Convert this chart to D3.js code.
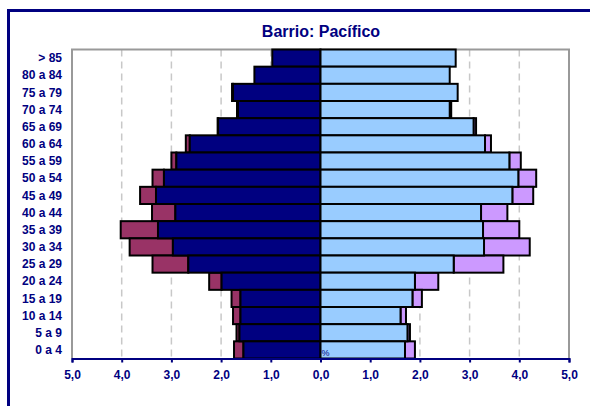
<!DOCTYPE html>
<html>
<head>
<meta charset="utf-8">
<script src="https://cdn.jsdelivr.net/npm/d3@7"></script>
<style>
  body { margin: 0; background: #fff; }
  svg { display: block; font-family: "Liberation Sans", Arial, sans-serif; }
</style>
</head>
<body>
<div id="chart"></div>
<script>
// Age groups, top to bottom
const ageGroups = ['> 85', '80 a 84', '75 a 79', '70 a 74', '65 a 69', '60 a 64', '55 a 59', '50 a 54',
  '45 a 49', '40 a 44', '35 a 39', '30 a 34', '25 a 29', '20 a 24', '15 a 19', '10 a 14', '5 a 9', '0 a 4'];

// Men (left side): base share and the extra stacked beyond it
const menBase = [0.97, 1.33, 1.76, 1.66, 2.06, 2.63, 2.90, 3.15, 3.31, 2.92, 3.27, 2.97, 2.66, 1.99, 1.61, 1.61, 1.63, 1.55];
const menExtra = [0.0, 0.0, 0.02, 0.02, 0.01, 0.08, 0.10, 0.23, 0.32, 0.47, 0.75, 0.87, 0.72, 0.25, 0.18, 0.15, 0.06, 0.19];

// Women (right side)
const womenBase = [2.72, 2.60, 2.76, 2.60, 3.08, 3.31, 3.80, 3.98, 3.86, 3.23, 3.27, 3.29, 2.68, 1.90, 1.85, 1.61, 1.75, 1.70];
const womenExtra = [0.0, 0.0, 0.0, 0.03, 0.05, 0.12, 0.23, 0.36, 0.42, 0.53, 0.73, 0.92, 1.00, 0.47, 0.19, 0.11, 0.05, 0.20];

const xTicks = [-5, -4, -3, -2, -1, 0, 1, 2, 3, 4, 5];
const title = 'Barrio: Pacífico';

const navy = '#000080';
const width = 590, height = 406;
const margin = { top: 49.5, right: 20, bottom: 47.5, left: 72 };

const svg = d3.select('#chart').append('svg')
  .attr('width', width)
  .attr('height', height);

// Outer frame
svg.append('rect')
  .attr('x', 8.5).attr('y', 10.5)
  .attr('width', 600).attr('height', 420)
  .attr('fill', 'none')
  .attr('stroke', navy)
  .attr('stroke-width', 3);

const x = d3.scaleLinear().domain([-5, 5]).range([margin.left, width - margin.right - 1]);
const y = d3.scaleBand().domain(ageGroups).range([margin.top, height - margin.bottom]).padding(0);

// Gridlines
svg.append('g')
  .selectAll('line')
  .data(xTicks.filter((d) => d !== 0 && Math.abs(d) !== 5))
  .enter().append('line')
  .attr('x1', (d) => x(d)).attr('x2', (d) => x(d))
  .attr('y1', margin.top).attr('y2', height - margin.bottom)
  .attr('stroke', '#c8c8c8')
  .attr('stroke-width', 1.5)
  .attr('stroke-dasharray', '7,5');

// Plot border (top, left, right)
svg.append('path')
  .attr('d', `M${x(-5)},${height - margin.bottom}V${margin.top}H${x(5)}V${height - margin.bottom}`)
  .attr('fill', 'none')
  .attr('stroke', '#999')
  .attr('stroke-width', 2);

// Stacked bars
const rows = ageGroups.map((g, i) => ({
  group: g,
  mB: menBase[i], mE: menExtra[i],
  wB: womenBase[i], wE: womenExtra[i],
}));

const bars = svg.append('g').attr('stroke', '#000').attr('stroke-width', 2);

function addBars(x0, x1, color) {
  bars.selectAll(null)
    .data(rows)
    .enter().append('rect')
    .attr('x', (d) => Math.min(x(x0(d)), x(x1(d))))
    .attr('y', (d) => y(d.group))
    .attr('width', (d) => Math.abs(x(x1(d)) - x(x0(d))))
    .attr('height', y.bandwidth())
    .attr('fill', color);
}

addBars((d) => -d.mB, (d) => -(d.mB + d.mE), '#993366');
addBars(() => 0, (d) => -d.mB, navy);
addBars((d) => d.wB, (d) => d.wB + d.wE, '#cc99ff');
addBars(() => 0, (d) => d.wB, '#99ccff');

// Small % marker
svg.append('text')
  .attr('x', x(0) + 1).attr('y', height - margin.bottom - 3)
  .attr('font-size', 9)
  .attr('fill', navy)
  .text('%');

// X axis
const xAxis = d3.axisBottom(x)
  .tickValues(xTicks)
  .tickSize(4)
  .tickFormat((d) => Math.abs(d).toFixed(1).replace('.', ','));

const gx = svg.append('g')
  .attr('transform', `translate(0,${height - margin.bottom})`)
  .call(xAxis);
gx.select('.domain').attr('stroke', navy).attr('stroke-width', 2);
gx.selectAll('.tick line').attr('stroke', navy).attr('stroke-width', 2);
gx.selectAll('.tick text')
  .attr('fill', navy)
  .attr('font-size', 12)
  .attr('font-weight', 'bold')
  .attr('dy', '1.1em')
  .attr('font-family', '"Liberation Sans", Arial, sans-serif');

// Y labels
svg.append('g')
  .selectAll('text')
  .data(ageGroups)
  .enter().append('text')
  .attr('x', 62)
  .attr('y', (d) => y(d) + y.bandwidth() / 2)
  .attr('dy', '0.35em')
  .attr('text-anchor', 'end')
  .attr('font-size', 12)
  .attr('font-weight', 'bold')
  .attr('fill', navy)
  .text((d) => d);

// Title
svg.append('text')
  .attr('x', x(0) + 0.5)
  .attr('y', 37)
  .attr('text-anchor', 'middle')
  .attr('font-size', 16)
  .attr('font-weight', 'bold')
  .attr('fill', navy)
  .text(title);
</script>
</body>
</html>
